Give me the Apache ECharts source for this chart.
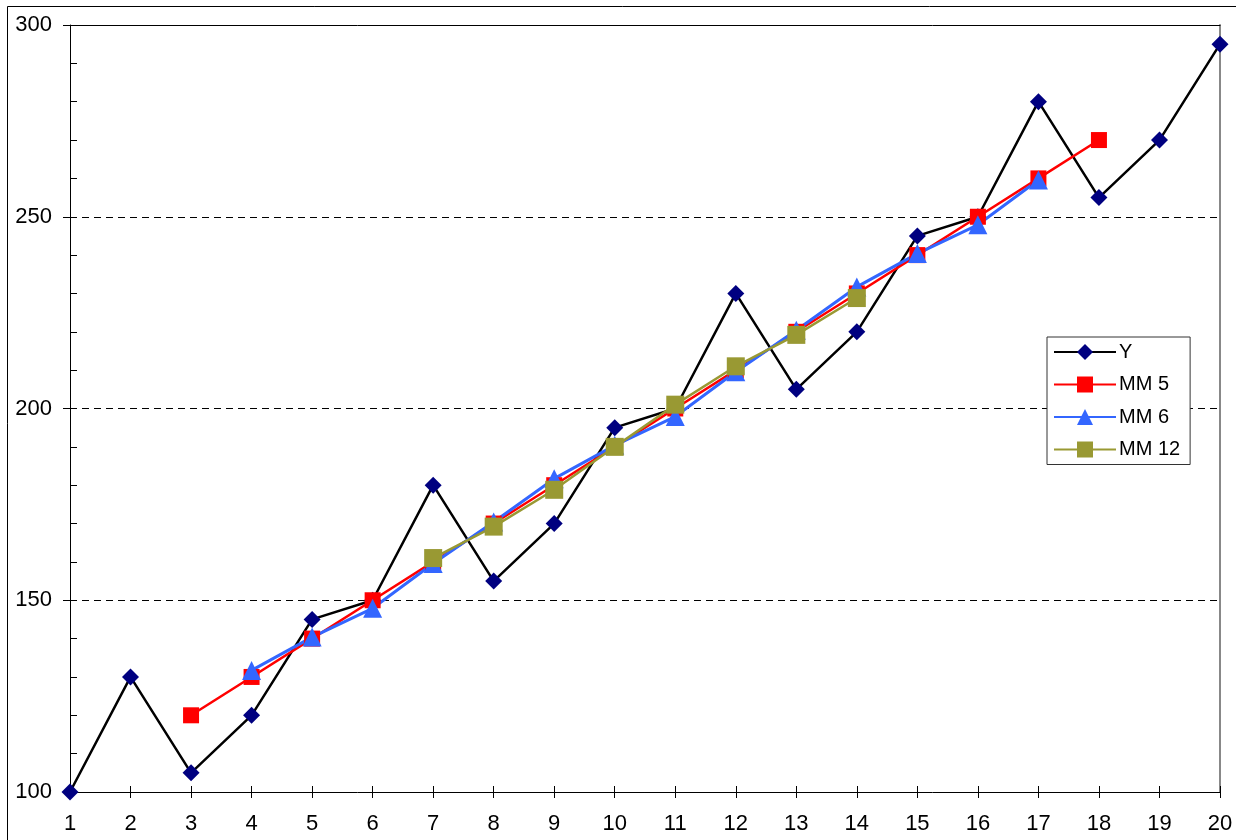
<!DOCTYPE html>
<html>
<head>
<meta charset="utf-8">
<script src="https://cdn.jsdelivr.net/npm/echarts@6/dist/echarts.min.js"></script>
<style>
html,body{margin:0;padding:0;background:#fff;}
#c{width:1236px;height:840px;}
</style>
</head>
<body>
<div id="c"></div>
<script>
const categories = ['1','2','3','4','5','6','7','8','9','10','11','12','13','14','15','16','17','18','19','20'];
const seriesY   = [100,130,105,120,145,150,180,155,170,195,200,230,205,220,245,250,280,255,270,295];
const seriesMM5 = [null,null,120,130,140,150,160,170,180,190,200,210,220,230,240,250,260,270,null,null];
const seriesMM6 = [null,null,null,131.7,140.4,147.9,159.6,170.4,181.7,190.4,197.9,209.6,220.4,231.7,240.4,247.9,259.6,null,null,null];
const seriesMM12= [null,null,null,null,null,null,161.0,169.2,178.8,190.0,201.0,211.0,219.2,228.8,null,null,null,null,null,null];
const yTicks = [100,150,200,250,300];

const font = '"Liberation Sans", Arial, sans-serif';
const chart = echarts.init(document.getElementById('c'), null, {renderer:'canvas'});
const gridPos = {left:70, top:25, right:16, bottom:48, containLabel:false};
chart.setOption({
  animation:false,
  backgroundColor:'#fff',
  textStyle:{fontFamily:font},
  graphic:[{type:'rect', shape:{x:7.5,y:6.5,width:1300,height:900}, style:{fill:null, stroke:'#000', lineWidth:1}, z:-10}],
  grid:[Object.assign({}, gridPos), Object.assign({}, gridPos)],
  legend:{
    orient:'vertical', left:1047, top:337,
    padding:[5,10,5,6], itemGap:12.5, itemWidth:62, itemHeight:20,
    borderColor:'#333', borderWidth:1, backgroundColor:'#fff',
    textStyle:{fontFamily:font, fontSize:20, color:'#000', padding:[0,0,0,-2]},
    data:['Y','MM 5','MM 6','MM 12']
  },
  xAxis:[
    {gridIndex:0, type:'category', data:categories, boundaryGap:false, position:'bottom',
     axisLine:{lineStyle:{color:'#000', width:1}},
     axisTick:{show:true, inside:false, length:6, lineStyle:{color:'#000'}},
     axisLabel:{fontSize:22, color:'#000', fontFamily:font, margin:21, interval:0},
     splitLine:{show:false}},
    {gridIndex:1, type:'category', data:categories, boundaryGap:false, position:'bottom',
     axisLine:{show:false},
     axisTick:{show:true, inside:true, length:6, lineStyle:{color:'#000'}},
     axisLabel:{show:false}, splitLine:{show:false}},
    {gridIndex:1, type:'category', data:categories, boundaryGap:false, position:'top',
     axisLine:{lineStyle:{color:'#000', width:1}},
     axisTick:{show:false}, axisLabel:{show:false}, splitLine:{show:false}}
  ],
  yAxis:[
    {gridIndex:0, type:'value', min:100, max:300, interval:50, position:'left',
     axisLine:{show:true, lineStyle:{color:'#000', width:1}},
     axisTick:{show:true, inside:false, length:7, lineStyle:{color:'#000'}},
     axisLabel:{fontSize:22, color:'#000', fontFamily:font, margin:18},
     splitLine:{show:true, lineStyle:{color:'#000', type:[7,5], width:1}}},
    {gridIndex:1, type:'value', min:100, max:300, interval:10, position:'left',
     axisLine:{show:false},
     axisTick:{show:true, inside:true, length:7, lineStyle:{color:'#000'}},
     axisLabel:{show:false}, splitLine:{show:false}},
    {gridIndex:1, type:'value', min:100, max:300, interval:50, position:'right',
     axisLine:{show:true, lineStyle:{color:'#888', width:2}},
     axisTick:{show:false}, axisLabel:{show:false}, splitLine:{show:false}}
  ],
  series:[
    {name:'Y', type:'line', xAxisIndex:0, yAxisIndex:0, data:seriesY,
     symbol:'diamond', symbolSize:17, showAllSymbol:true,
     lineStyle:{color:'#000', width:2.5}, itemStyle:{color:'#000080', borderWidth:0}},
    {name:'MM 5', type:'line', xAxisIndex:0, yAxisIndex:0, data:seriesMM5,
     symbol:'rect', symbolSize:16, showAllSymbol:true,
     lineStyle:{color:'#ff0000', width:2.5}, itemStyle:{color:'#ff0000', borderWidth:0}},
    {name:'MM 6', type:'line', xAxisIndex:0, yAxisIndex:0, data:seriesMM6,
     symbol:'triangle', symbolSize:19, showAllSymbol:true,
     lineStyle:{color:'#3366ff', width:3}, itemStyle:{color:'#3366ff', borderWidth:0}},
    {name:'MM 12', type:'line', xAxisIndex:0, yAxisIndex:0, data:seriesMM12,
     symbol:'rect', symbolSize:18, showAllSymbol:true,
     lineStyle:{color:'#999933', width:2.5}, itemStyle:{color:'#999933', borderWidth:0}}
  ]
});
</script>
</body>
</html>
